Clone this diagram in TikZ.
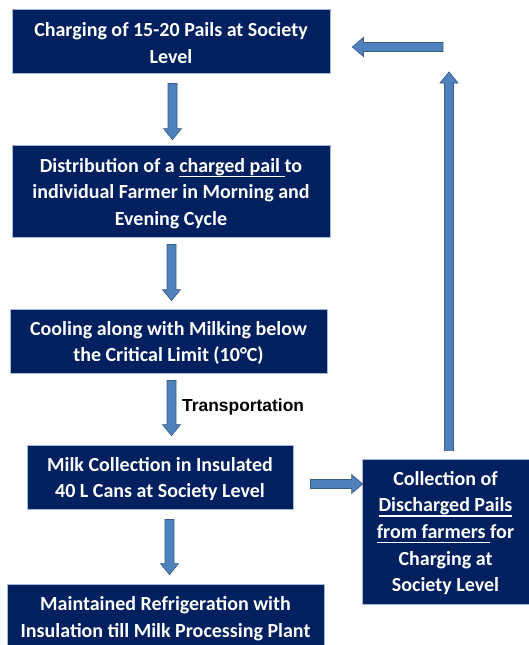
\documentclass[tikz,border=0pt]{standalone}
\usepackage{fontspec}
\setmainfont{Carlito}
\newfontfamily\arialb{Liberation Sans}
\usetikzlibrary{calc}
\definecolor{boxblue}{HTML}{002060}
\definecolor{boxedge}{HTML}{A6B8D8}
\definecolor{arrfill}{HTML}{4F81BD}
\definecolor{arredge}{HTML}{385D8A}
\newcommand\ulx[1]{\setbox0\hbox{#1}\rlap{\raisebox{-5pt}{\rule{\wd0}{1.3pt}}}\box0}
\newcommand\vblk[3]{\filldraw[barr] let \p1=#1, \p2=#2 in
  (\x1-4.5pt,\y1) -- (\x1-4.5pt,\y2+#3*11pt) -- (\x1-9pt,\y2+#3*11pt) -- (\x1,\y2)
  -- (\x1+9pt,\y2+#3*11pt) -- (\x1+4.5pt,\y2+#3*11pt) -- (\x1+4.5pt,\y1) -- cycle;}
\newcommand\hblk[3]{\filldraw[barr] let \p1=#1, \p2=#2 in
  (\x1,\y1-4.5pt) -- (\x2+#3*11pt,\y1-4.5pt) -- (\x2+#3*11pt,\y1-9.5pt) -- (\x2,\y1)
  -- (\x2+#3*11pt,\y1+9.5pt) -- (\x2+#3*11pt,\y1+4.5pt) -- (\x1,\y1+4.5pt) -- cycle;}
\tikzset{
  box/.style={rectangle, fill=boxblue, draw=boxedge, line width=0.8pt, inner sep=0pt},
  btext/.style={text=white, font=\bfseries\fontsize{20}{26.7}\selectfont, align=center, inner sep=0pt},
  barr/.style={fill=arrfill, draw=arredge, line width=0.7pt, line join=miter},
  lbl/.style={font=\arialb\bfseries\fontsize{17.4}{20}\selectfont, inner sep=0pt, text=black}
}
\begin{document}
\begin{tikzpicture}[x=1pt,y=-1pt]
\useasboundingbox (0,0) rectangle (528,645);
\fill[white] (0,0) rectangle (528,645);
\node[box, minimum width=318pt, minimum height=64pt] (b1) at (171,41) {};
\node[btext] (t1) at ([shift={(0,2)}]b1.center) {Charging of 15-20 Pails at Society\\Level};
\node[box, minimum width=318pt, minimum height=92pt] (b2) at (171,191) {};
\node[btext] (t2) at ([shift={(0,2.5)}]b2.center)
  {Distribution of a \ulx{charged pail\ }to\\individual Farmer in Morning and\\Evening Cycle};
\node[box, minimum width=317pt, minimum height=64pt] (b3) at (168.5,341) {};
\node[btext] (t3) at ([shift={(0,2)}]b3.center) {Cooling along with Milking below\\the Critical Limit (10°C)};
\node[box, minimum width=266pt, minimum height=64pt] (b4) at (160,477) {};
\node[btext] (t4) at ([shift={(0,2)}]b4.center) {Milk Collection in Insulated\\40 L Cans at Society Level};
\node[box, minimum width=317pt, minimum height=65pt] (b5) at (165.5,616.5) {};
\node[btext] (t5) at ([shift={(0,2)}]b5.center) {Maintained Refrigeration with\\Insulation till Milk Processing Plant};
\node[box, minimum width=168pt, minimum height=145pt] (b6) at (446,531.5) {};
\node[btext] (t6) at ([shift={(-0.5,1.5)}]b6.center)
  {Collection of\\\ulx{Discharged Pails}\\\ulx{from farmers\ }for\\Charging at\\Society Level};
\node[lbl, anchor=west] (tl) at (182,407) {Transportation};
\coordinate (c1) at (449,72);
\coordinate (c2) at (443,47);
\vblk{([shift={(1.5,10)}]b1.south)}{([shift={(1.5,-5)}]b2.north)}{1}
\vblk{([shift={(0.5,7)}]b2.south)}{([shift={(3,-8)}]b3.north)}{1}
\vblk{([shift={(3,7)}]b3.south)}{([shift={(11.5,-9)}]b4.north)}{1}
\vblk{([shift={(9.5,10)}]b4.south)}{([shift={(4,-9)}]b5.north)}{1}
\hblk{([shift={(17,7)}]b4.east)}{([shift={(1,-47.5)}]b6.west)}{-1}
\vblk{([shift={(3,-8)}]b6.north)}{(c1)}{-1}
\hblk{(c2)}{([shift={(22,6)}]b1.east)}{1}
\end{tikzpicture}
\end{document}
